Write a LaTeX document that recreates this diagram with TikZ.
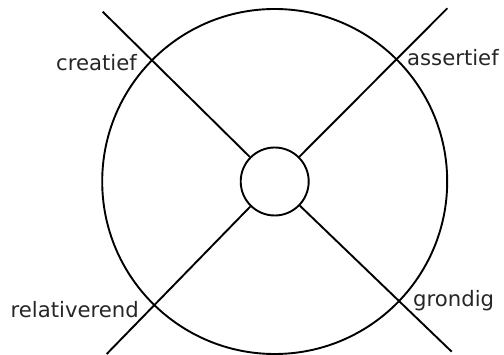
\documentclass[tikz,border=0pt]{standalone}
\usepackage{fontspec}
\setmainfont{DejaVu Sans}
\begin{document}
\begin{tikzpicture}[x=1pt, y=-1pt,
    ring/.style={draw, circle, line width=1.9pt, inner sep=0pt},
    spoke/.style={line width=1.9pt},
    lbl/.style={font=\fontsize{21.2}{25}\selectfont, inner sep=0pt, text=black!85}
    ]
    \useasboundingbox (0,0) rectangle (504,355);

    \node[ring, minimum size=345pt] (outer) at (274.7,181.5) {};
    \node[ring, minimum size=68pt] (hub) at (274.7,181.5) {};

    \coordinate (NW) at (102.7,11.7);
    \coordinate (NE) at (447.3,8.3);
    \coordinate (SW) at (106.7,354);
    \coordinate (SE) at (451.7,351.7);

    \draw[spoke] (hub) -- (NW);
    \draw[spoke] (hub) -- (NE);
    \draw[spoke] (hub) -- (SW);
    \draw[spoke] (hub) -- (SE);

    \node[lbl, anchor=base east] (creatief) at (137,70.7) {creatief};
    \node[lbl, anchor=base west] (assertief) at (407,66) {assertief};
    \node[lbl, anchor=base east] (relativerend) at (139,317.3) {relativerend};
    \node[lbl, anchor=base west] (grondig) at (413,307) {grondig};

\end{tikzpicture}
\end{document}
